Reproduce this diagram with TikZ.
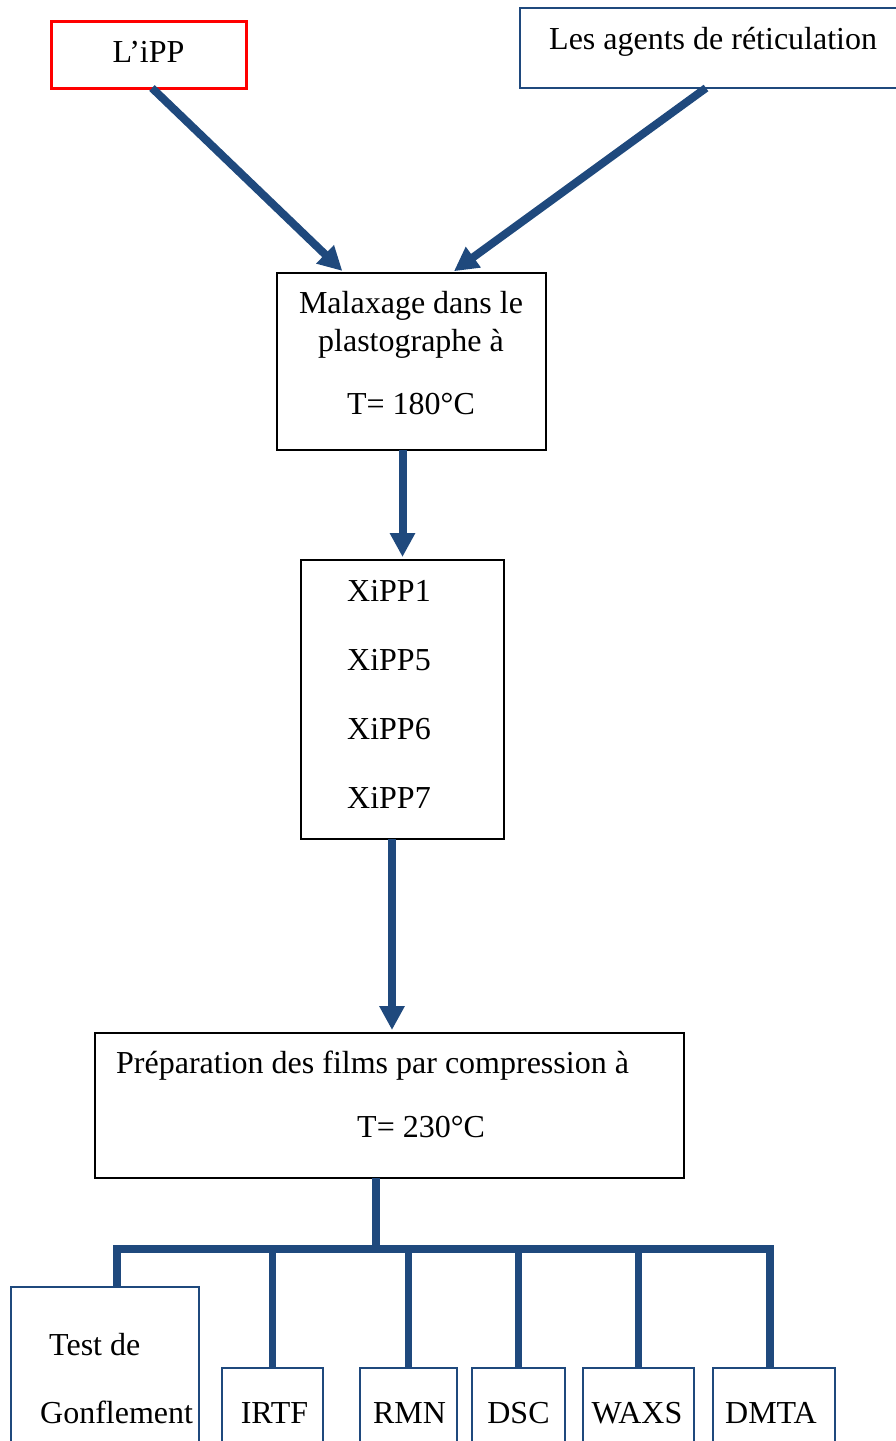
\documentclass[tikz,border=0pt]{standalone}
\usepackage{fontspec}
\setmainfont{Liberation Serif}
\usetikzlibrary{arrows.meta}
\definecolor{flowblue}{RGB}{31,73,125}
\begin{document}
\begin{tikzpicture}[x=1pt,y=-1pt,
  box/.style={draw, line width=2pt, anchor=north west, inner sep=0pt, outer sep=0pt},
  bluebox/.style={box, draw=flowblue, line width=2.5pt},
  txt/.style={font=\fontsize{32}{39}\selectfont, inner sep=0pt, anchor=base west},
  ctxt/.style={font=\fontsize{32}{39}\selectfont, inner sep=0pt, anchor=base},
  flow/.style={draw=flowblue, line width=8pt, shorten >=3pt, -{Triangle[length=24pt,width=24pt]}},
  fork/.style={draw=flowblue, line width=7.5pt},
]
\useasboundingbox (0,0) rectangle (896,1441);

% boxes
\node[box, draw=red, line width=3pt, minimum width=195pt, minimum height=67pt] (ipp) at (51,21) {};
\node[bluebox, minimum width=390pt, minimum height=80pt] (agents) at (520,8) {};
\node[box, draw=black, minimum width=269pt, minimum height=177pt] (mal) at (277,273) {};
\node[box, draw=black, minimum width=203pt, minimum height=279pt] (xipp) at (301,560) {};
\node[box, draw=black, minimum width=589pt, minimum height=145pt] (prep) at (95,1033) {};
\node[bluebox, minimum width=188pt, minimum height=200pt] (test) at (11,1287) {};
\node[bluebox, minimum width=101pt, minimum height=120pt] (irtf) at (222,1368) {};
\node[bluebox, minimum width=97pt, minimum height=120pt] (rmn) at (360,1368) {};
\node[bluebox, minimum width=93pt, minimum height=120pt] (dsc) at (472,1368) {};
\node[bluebox, minimum width=111pt, minimum height=120pt] (waxs) at (583,1368) {};
\node[bluebox, minimum width=122pt, minimum height=120pt] (dmta) at (713,1368) {};

% texts
\node[ctxt] (tipp) at (148.5,62) {L’iPP};
\node[txt] (tagents) at (549,49) {Les agents de réticulation};
\node[ctxt] (tmal1) at (411,313) {Malaxage dans le};
\node[ctxt] (tmal2) at (411,351) {plastographe à};
\node[ctxt] (tmal3) at (411,414) {T= 180°C};
\node[txt] (tx1) at (347,601) {XiPP1};
\node[txt] (tx5) at (347,670) {XiPP5};
\node[txt] (tx6) at (347,739) {XiPP6};
\node[txt] (tx7) at (347,808) {XiPP7};
\node[txt] (tprep1) at (116,1073) {Préparation des films par compression à};
\node[txt] (tprep2) at (357,1137) {T= 230°C};
\node[txt] (ttest1) at (49,1355) {Test de};
\node[txt] (ttest2) at (40,1423) {Gonflement};
\node[ctxt] (tirtf) at (274.5,1423) {IRTF};
\node[ctxt] (trmn) at (409.5,1423) {RMN};
\node[ctxt] (tdsc) at (518.5,1423) {DSC};
\node[ctxt] (twaxs) at (637,1423) {WAXS};
\node[ctxt] (tdmta) at (771,1423) {DMTA};

% arrows
\draw[flow] ([xshift=3.5pt]ipp.south) -- ([xshift=-67pt]mal.north);
\draw[flow] ([xshift=-9pt]agents.south) -- ([xshift=40pt]mal.north);
\draw[flow] (mal.south -| xipp.north) -- (xipp.north);
\coordinate (x4) at ([xshift=-10.5pt]xipp.south);
\draw[flow] (x4) -- (x4 |- prep.north);

% fork
\coordinate (stemtop) at ([xshift=-13.5pt]prep.south);
\coordinate (busL) at (117,1249);
\coordinate (busR) at (770,1249);
\draw[fork] (stemtop) -- (stemtop |- busL);
\draw[fork, line cap=rect] (busL) -- (busR);
\draw[fork] (busL) -- (busL |- test.north);
\draw[fork] (irtf.north |- busL) -- (irtf.north);
\draw[fork] (rmn.north |- busL) -- (rmn.north);
\draw[fork] (dsc.north |- busL) -- (dsc.north);
\draw[fork] (waxs.north |- busL) -- (waxs.north);
\draw[fork] (busR) -- (busR |- dmta.north);
\end{tikzpicture}
\end{document}
